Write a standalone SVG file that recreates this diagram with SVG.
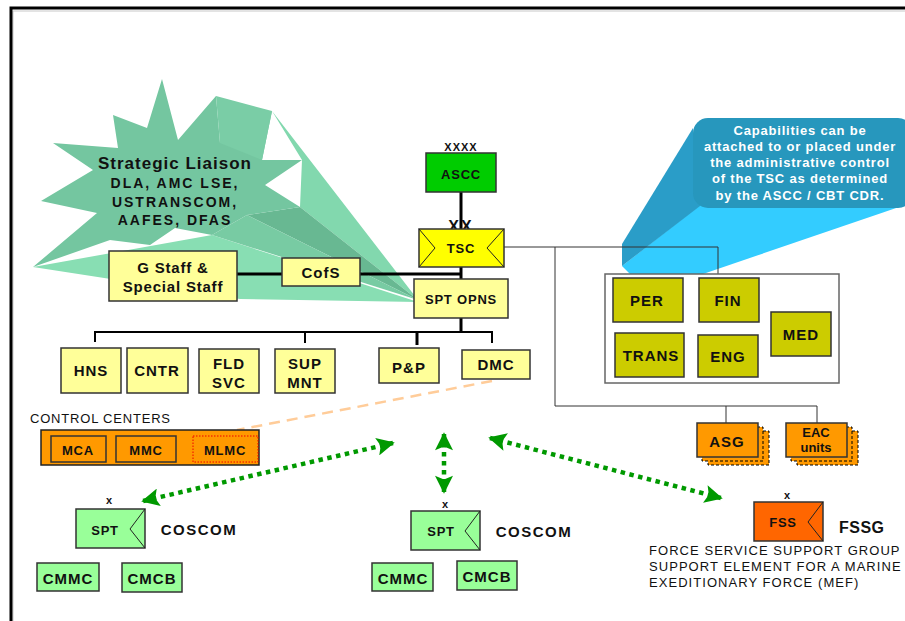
<svg xmlns="http://www.w3.org/2000/svg" width="905" height="621" viewBox="0 0 905 621">
<defs>
<style>
text{font-family:"Liberation Sans",Arial,sans-serif;font-weight:bold;fill:#111;text-anchor:middle}
.box{stroke:#333;stroke-width:1.5}
.ly{fill:#FFFF99}
.gr{fill:#99FF99}
.ol{fill:#CCCC00}
.or{fill:#FF9900}
.thick{stroke:#000;stroke-width:3;fill:none}
.bus{stroke:#000;stroke-width:2;fill:none}
.thin{stroke:#333;stroke-width:1;fill:none}
.dot{stroke:#009900;stroke-width:4.5;stroke-dasharray:4.5 4.5;fill:none;marker-start:url(#ah);marker-end:url(#ah)}
.t15{font-size:15px;letter-spacing:1px}
.t13{font-size:13px;letter-spacing:0.8px}
.plain{font-weight:normal;text-anchor:start;font-size:13px;letter-spacing:1.05px}
</style>
<marker id="ah" viewBox="0 0 10 10" refX="9" refY="5" markerUnits="userSpaceOnUse" markerWidth="19" markerHeight="18" orient="auto-start-reverse">
<path d="M0,0 L10,5 L0,10 L2,5 z" fill="#009900"/>
</marker>
</defs>

<rect width="905" height="621" fill="#fff"/>
<path d="M13,621 V11 H905" stroke="#c8c8c8" stroke-width="1" fill="none"/>
<path d="M11,621 V8 H905" stroke="#000" stroke-width="3" fill="none"/>

<!-- starburst -->
<g id="starburst">
<polygon points="33,267 212,235 418,302 240,299" fill="#88DEB3"/>
<polygon points="272,111 418,300 300,207 302,160" fill="#82D8AE"/>
<polygon points="247,215 300,207 418,300" fill="#68B892"/>
<polygon points="212,235 247,215 418,300" fill="#78CBA3"/>
<polygon points="162,79 178,140 216,96 220,143 272,111 262,160 302,160 265,185 300,207 247,215 212,235 175,228 150,245 110,240 33,267 97,213 41,201 93,170 53,143 118,148 113,115 147,128" fill="#74C6A0"/>
<polygon points="216,96 272,111 262,160 220,143" fill="#7ACDA6"/>
<text x="175" y="169" style="font-size:17px;letter-spacing:1px">Strategic Liaison</text>
<text x="175" y="188" style="font-size:14px;letter-spacing:2px">DLA, AMC LSE,</text>
<text x="175" y="207" style="font-size:14px;letter-spacing:2px">USTRANSCOM,</text>
<text x="175" y="225" style="font-size:14px;letter-spacing:2px">AAFES,  DFAS</text>
</g>

<!-- callout -->
<g id="callout">
<polygon points="700,205 905,205 703,274 630,274 622,266" fill="#33CCFF"/>
<polygon points="693,128 700,206 622,266 622,244" fill="#2A9DC8"/>
<rect x="693" y="118" width="220" height="90" rx="15" fill="#2797BD"/>
<text x="800" y="135" class="t13" style="fill:#fff">Capabilities can be</text>
<text x="800" y="151" class="t13" style="fill:#fff">attached to or placed under</text>
<text x="800" y="167" class="t13" style="fill:#fff">the administrative control</text>
<text x="800" y="183" class="t13" style="fill:#fff">of the TSC as determined</text>
<text x="800" y="200" class="t13" style="fill:#fff">by the ASCC / CBT CDR.</text>
</g>

<!-- connectors -->
<g id="connectors">
<line x1="461" y1="192" x2="461" y2="229" class="thick"/>
<line x1="237" y1="274" x2="462" y2="274" class="thick"/>
<line x1="461" y1="267" x2="461" y2="279" class="thick"/>
<line x1="461" y1="318" x2="461" y2="332" class="thick"/>
<path d="M95,342 V332 H492 V343" class="bus"/>
<line x1="305" y1="332" x2="305" y2="343" class="bus"/>
<line x1="417" y1="332" x2="417" y2="345" class="bus" style="stroke-width:3"/>
<path d="M504,247 H718 V274" class="thin"/>
<path d="M555,247 V406 H817 V423" class="thin"/>
<line x1="726" y1="406" x2="726" y2="423" class="thin"/>
<line x1="492" y1="381" x2="237" y2="430" stroke="#FFCC99" stroke-width="2.5" stroke-dasharray="11 7"/>
<line x1="393" y1="443" x2="143" y2="501" class="dot"/>
<line x1="444" y1="434" x2="444" y2="492" class="dot"/>
<line x1="490" y1="438" x2="721" y2="498" class="dot"/>
</g>

<g id="ascc">
<text x="461" y="151" style="font-size:11px;letter-spacing:1px">XXXX</text>
<rect x="426" y="153" width="70" height="39" fill="#00CC00" class="box"/>
<text x="461" y="179" class="t13">ASCC</text>
</g>

<g id="tsc">
<text x="461" y="232" style="font-size:16px;letter-spacing:2px">XX</text>
<rect x="419" y="229" width="85" height="38" fill="#FFFF00" class="box"/>
<path d="M419,229 L435,248 L419,267 M504,229 L487,248 L504,267" class="thin" style="stroke:#222"/>
<text x="461" y="253" class="t13">TSC</text>
</g>

<g id="sptopns">
<rect x="414" y="279" width="94" height="39" class="box ly"/>
<text x="461" y="304" class="t13">SPT OPNS</text>
</g>

<g id="gstaff">
<rect x="109" y="251" width="128" height="50" class="box ly"/>
<text x="173" y="273" class="t15" style="letter-spacing:0.8px">G Staff &amp;</text>
<text x="173" y="292" class="t15" style="letter-spacing:0.8px">Special Staff</text>
</g>

<g id="cofs">
<rect x="282" y="258" width="78" height="28" class="box ly"/>
<text x="321" y="278" class="t15">CofS</text>
</g>

<g id="hns"><rect x="61" y="348" width="60" height="45" class="box ly"/><text x="91" y="376" class="t15">HNS</text></g>
<g id="cntr"><rect x="127" y="348" width="61" height="45" class="box ly"/><text x="157" y="376" class="t15">CNTR</text></g>
<g id="fldsvc"><rect x="199" y="349" width="60" height="44" class="box ly"/><text x="229" y="369" class="t15">FLD</text><text x="229" y="388" class="t15">SVC</text></g>
<g id="supmnt"><rect x="275" y="349" width="60" height="44" class="box ly"/><text x="305" y="369" class="t15">SUP</text><text x="305" y="388" class="t15">MNT</text></g>
<g id="pp"><rect x="379" y="348" width="60" height="35" class="box ly"/><text x="409" y="373" class="t15">P&amp;P</text></g>
<g id="dmc"><rect x="462" y="350" width="68" height="29" class="box ly"/><text x="496" y="370" class="t15">DMC</text></g>

<g id="controlcenters">
<text x="30" y="423" class="plain" style="letter-spacing:0.8px">CONTROL CENTERS</text>
<rect x="41" y="430" width="218" height="35" fill="#FF9900" stroke="#222" stroke-width="1.5"/>
<rect x="51" y="436" width="55" height="26" fill="#FF9900" stroke="#333" stroke-width="1.5"/>
<text x="78" y="455" class="t13">MCA</text>
<rect x="116" y="436" width="60" height="26" fill="#FF9900" stroke="#333" stroke-width="1.5"/>
<text x="146" y="455" class="t13">MMC</text>
<rect x="193" y="436" width="65" height="26" fill="#FF9900" stroke="#E00" stroke-width="1" stroke-dasharray="1.5 1.5"/>
<text x="225" y="455" class="t13">MLMC</text>
</g>

<g id="capbox">
<rect x="605" y="274" width="234" height="109" fill="#fff" stroke="#666" stroke-width="1.5"/>
</g>
<g id="per"><rect x="613" y="278" width="70" height="44" class="box ol"/><text x="647" y="306" class="t15">PER</text></g>
<g id="fin"><rect x="699" y="278" width="60" height="44" class="box ol"/><text x="728" y="306" class="t15">FIN</text></g>
<g id="trans"><rect x="615" y="333" width="69" height="44" class="box ol"/><text x="651" y="361" class="t15">TRANS</text></g>
<g id="eng"><rect x="698" y="335" width="60" height="42" class="box ol"/><text x="728" y="362" class="t15">ENG</text></g>
<g id="med"><rect x="771" y="312" width="60" height="44" class="box ol"/><text x="801" y="340" class="t15">MED</text></g>

<g id="asg">
<rect x="708" y="431" width="61" height="34" fill="#FF9900" stroke="#000" stroke-width="1" stroke-dasharray="3 2"/>
<rect x="702" y="427" width="61" height="34" fill="#FF9900" stroke="#000" stroke-width="1" stroke-dasharray="3 2"/>
<rect x="697" y="423" width="61" height="34" fill="#FF9900" stroke="#333" stroke-width="1.5"/>
<text x="727" y="447" class="t15">ASG</text>
</g>
<g id="eac">
<rect x="797" y="431" width="61" height="34" fill="#FF9900" stroke="#000" stroke-width="1" stroke-dasharray="3 2"/>
<rect x="791" y="427" width="61" height="34" fill="#FF9900" stroke="#000" stroke-width="1" stroke-dasharray="3 2"/>
<rect x="786" y="423" width="61" height="34" fill="#FF9900" stroke="#333" stroke-width="1.5"/>
<text x="816" y="437" style="font-size:13px">EAC</text>
<text x="816" y="452" style="font-size:13px">units</text>
</g>

<g id="coscom1">
<text x="109" y="504" style="font-size:11px">x</text>
<rect x="76" y="509" width="69" height="39" class="box gr"/>
<path d="M145,509 L130,529 L145,548" class="thin" style="stroke:#222"/>
<text x="105" y="535" class="t13">SPT</text>
<text x="199" y="535" class="t15" style="letter-spacing:1.5px">COSCOM</text>
</g>
<g id="cmmc1"><rect x="37" y="563" width="62" height="28" class="box gr"/><text x="68" y="584" class="t15">CMMC</text></g>
<g id="cmcb1"><rect x="122" y="563" width="60" height="29" class="box gr"/><text x="152" y="584" class="t15">CMCB</text></g>

<g id="coscom2">
<text x="445" y="508" style="font-size:11px">x</text>
<rect x="411" y="511" width="69" height="39" class="box gr"/>
<path d="M480,511 L465,531 L480,550" class="thin" style="stroke:#222"/>
<text x="441" y="536" class="t13">SPT</text>
<text x="534" y="537" class="t15" style="letter-spacing:1.5px">COSCOM</text>
</g>
<g id="cmmc2"><rect x="372" y="563" width="61" height="28" class="box gr"/><text x="403" y="584" class="t15">CMMC</text></g>
<g id="cmcb2"><rect x="457" y="561" width="60" height="29" class="box gr"/><text x="487" y="582" class="t15">CMCB</text></g>

<g id="fssg">
<text x="787" y="499" style="font-size:11px">x</text>
<rect x="754" y="502" width="69" height="39" fill="#FF6600" stroke="#333" stroke-width="1.5"/>
<path d="M823,502 L808,522 L823,541" class="thin" style="stroke:#222"/>
<text x="783" y="527" class="t13">FSS</text>
<text x="839" y="533" style="font-size:16px;text-anchor:start;letter-spacing:0.5px">FSSG</text>
<text x="649" y="555" class="plain">FORCE SERVICE SUPPORT GROUP</text>
<text x="649" y="571" class="plain">SUPPORT ELEMENT FOR A MARINE</text>
<text x="649" y="587" class="plain">EXEDITIONARY FORCE (MEF)</text>
</g>
</svg>
